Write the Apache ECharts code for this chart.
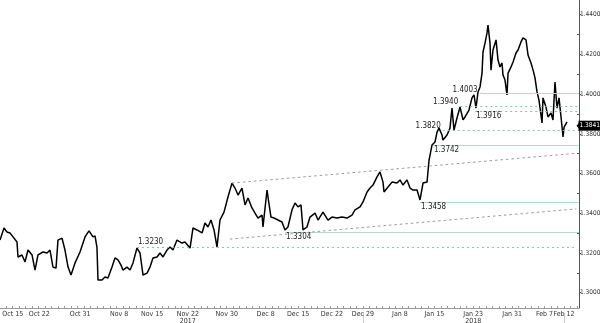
<!DOCTYPE html>
<html>
<head>
<meta charset="utf-8">
<script src="https://cdn.jsdelivr.net/npm/echarts@6/dist/echarts.min.js"></script>
<style>html,body{margin:0;padding:0;background:#fff}#c{width:600px;height:323px}</style>
</head>
<body>
<div id="c"></div>
<script>
// x = trading-day index (0 = Mon Oct 16 2017), y = GBP/USD
var tradeDay = [-1.96,-1.34,-0.88,-0.42,0.05,0.66,0.82,1.43,1.90,2.36,2.98,3.44,3.90,4.67,5.29,5.75,6.21,6.68,6.98,7.60,8.06,8.53,8.99,9.61,10.38,11.15,11.76,12.38,12.69,12.99,13.15,13.77,14.23,14.69,15.31,15.77,16.23,16.70,17.00,17.62,18.09,18.55,19.16,19.63,20.09,20.71,21.17,21.63,22.25,22.71,23.17,23.79,24.25,24.71,25.33,26.10,26.56,27.34,27.80,28.41,29.19,29.65,30.11,30.57,31.04,31.50,31.96,32.58,33.19,33.81,34.27,34.74,35.35,35.82,36.28,36.89,37.36,37.82,38.44,38.59,39.21,39.36,39.82,40.29,40.90,41.52,41.98,42.44,43.06,43.53,43.99,44.45,44.76,45.37,45.84,46.61,47.07,47.84,48.61,49.23,50.00,50.77,51.54,52.31,52.78,53.55,54.01,54.63,55.09,55.55,56.17,56.63,57.09,57.25,57.86,58.48,59.25,59.72,60.18,60.79,61.26,61.72,62.34,62.80,63.26,63.88,64.19,64.65,65.11,65.42,65.73,66.19,66.34,66.96,67.42,67.73,68.04,68.50,68.97,69.43,69.74,70.04,70.35,70.81,71.12,71.43,71.74,72.05,72.36,72.51,72.82,73.13,73.28,73.59,73.74,74.05,74.52,74.82,75.13,75.44,75.59,75.90,76.21,76.37,76.83,77.14,77.60,77.91,78.37,78.68,79.14,79.45,79.91,80.22,80.53,80.84,81.14,81.61,81.76,82.22,82.53,82.99,83.30,83.61,83.92,84.23,84.54,84.85,85.01,85.47];
var price = [1.3265,1.3326,1.3306,1.3301,1.3281,1.3255,1.3180,1.3190,1.3155,1.3215,1.3190,1.3114,1.3190,1.3205,1.3200,1.3215,1.3129,1.3124,1.3265,1.3275,1.3215,1.3129,1.3089,1.3150,1.3205,1.3281,1.3311,1.3281,1.3286,1.3230,1.3064,1.3064,1.3079,1.3074,1.3129,1.3175,1.3165,1.3139,1.3114,1.3129,1.3114,1.3150,1.3225,1.3200,1.3089,1.3099,1.3129,1.3175,1.3180,1.3200,1.3180,1.3215,1.3230,1.3215,1.3265,1.3250,1.3255,1.3225,1.3326,1.3316,1.3301,1.3351,1.3331,1.3366,1.3316,1.3230,1.3366,1.3406,1.3482,1.3552,1.3527,1.3492,1.3527,1.3442,1.3477,1.3427,1.3401,1.3376,1.3391,1.3331,1.3517,1.3482,1.3381,1.3376,1.3366,1.3356,1.3316,1.3331,1.3417,1.3452,1.3432,1.3442,1.3316,1.3331,1.3381,1.3401,1.3366,1.3406,1.3366,1.3381,1.3376,1.3381,1.3376,1.3391,1.3417,1.3432,1.3457,1.3507,1.3527,1.3542,1.3583,1.3608,1.3557,1.3507,1.3532,1.3557,1.3552,1.3568,1.3542,1.3568,1.3527,1.3517,1.3517,1.3467,1.3552,1.3557,1.3668,1.3744,1.3759,1.3809,1.3829,1.3794,1.3769,1.3794,1.3829,1.3930,1.3819,1.3880,1.3935,1.3870,1.3885,1.3880,1.3920,1.3981,1.3996,1.3930,1.4011,1.4036,1.4106,1.4212,1.4257,1.4308,1.4348,1.4257,1.4121,1.4222,1.4273,1.4172,1.4137,1.4157,1.4097,1.4071,1.3996,1.4106,1.4137,1.4162,1.4207,1.4222,1.4263,1.4283,1.4273,1.4197,1.4157,1.4122,1.4081,1.4011,1.3970,1.3855,1.3981,1.3935,1.3885,1.3905,1.3870,1.4061,1.3930,1.3981,1.3885,1.3784,1.3834,1.3860];
var lastPrice = 1.3841;

var tickNames = ['Oct 15','Oct 22','Oct 31','Nov 8','Nov 15','Nov 22\n2017','Nov 30','Dec 8','Dec 15','Dec 22','Dec 29','Jan 8','Jan 15','Jan 23\n2018','Jan 31','Feb 7','Feb 12'];
var tickDays  = [0,4.1,10.4,16.4,21.5,27,33,39,44,49.2,54,59.7,65,71,77,82,85];
var yTickLabels = [1.30,1.32,1.34,1.36,1.38,1.40,1.42,1.44];
var yMinorTicks = [1.31,1.33,1.35,1.37,1.39,1.41,1.43];
var separatorDays = [54,85];

// horizontal support/resistance levels
var levelValues = [1.3230,1.3304,1.3458,1.3742,1.3820,1.3916,1.3940,1.4003];
var levelStart  = [19.16,42.0,62.8,64.8,66.3,71.3,69.0,72.0];
var levelEnd    = [86.7,87.31,87.31,87.31,87.31,87.31,87.31,87.31];
var levelDashed = [true,false,false,false,true,true,true,false];
var levelLabelPos = ['insideStartTop','insideStartBottom','insideStartBottom','insideStartBottom','start','insideStartBottom','start','start'];

// trend lines [startDay, startValue, endDay, endValue]
var trendUpper = [33.81,1.3552,86.9,1.3702];
var trendLower = [33.50,1.3270,86.9,1.3422];

var X_MIN = -1.958, X_MAX = 87.31, Y_MIN = 1.2923, Y_MAX = 1.4474;
var NARROW = "'Liberation Sans Narrow','DejaVu Sans Condensed','Liberation Sans',sans-serif";

var lineData = tradeDay.map(function(d,i){return [d, price[i]];});
var dayTicks = []; for (var k=-1;k<=87;k++) dayTicks.push(k);

var mlData = levelValues.map(function(v,i){
  var dashed = levelDashed[i];
  var pos = levelLabelPos[i];
  var lbl = {show:true, position:pos, formatter:v.toFixed(4), fontSize:8, color:'#222', fontFamily:NARROW, distance: pos==='start'?2:1};
  if (pos==='start') lbl.offset=[0,-4];
  return [
    {coord:[levelStart[i], v], lineStyle:{color: dashed?'#86c4ae':'#b3dbcd', type: dashed?[2,3]:'solid', width:1}, label:lbl},
    {coord:[levelEnd[i], v]}
  ];
});
[trendUpper, trendLower].forEach(function(t){
  mlData.push([
    {coord:[t[0],t[1]], lineStyle:{color:'#9a9a9a', type:[2.5,3], width:1}, label:{show:false}},
    {coord:[t[2],t[3]]}
  ]);
});

var chart = echarts.init(document.getElementById('c'), null, {renderer:'canvas'});
chart.setOption({
  animation:false,
  backgroundColor:'#fff',
  grid:{left:0, right:21, top:0, bottom:15, containLabel:false, outerBoundsMode:'none'},
  xAxis:[{
    type:'value', min:X_MIN, max:X_MAX,
    splitLine:{show:false},
    axisLine:{show:true, onZero:false, lineStyle:{color:'#9a9a9a', width:1}},
    axisTick:{show:true, inside:true, length:2, customValues:dayTicks, lineStyle:{color:'#9a9a9a'}},
    axisLabel:{show:true, hideOverlap:false, customValues:tickDays, fontSize:7, color:'#333', fontFamily:NARROW, margin:3, lineHeight:7,
      formatter:function(v){var i=tickDays.indexOf(v); return i>=0?tickNames[i]:'';}}
  },{
    type:'value', min:X_MIN, max:X_MAX, position:'bottom', offset:5,
    splitLine:{show:false}, axisLine:{show:false, onZero:false}, axisLabel:{show:false},
    axisTick:{show:true, length:10, customValues:separatorDays, lineStyle:{color:'#cccccc'}}
  }],
  yAxis:[{
    type:'value', position:'right', min:Y_MIN, max:Y_MAX,
    splitLine:{show:false},
    axisLine:{show:true, onZero:false, lineStyle:{color:'#555', width:1}},
    axisTick:{show:true, inside:false, length:2, customValues:yTickLabels, lineStyle:{color:'#555'}},
    axisLabel:{show:true, hideOverlap:false, customValues:yTickLabels, fontSize:6.5, color:'#333', fontFamily:NARROW, margin:1,
      formatter:function(v){return v.toFixed(4);}}
  },{
    type:'value', position:'right', min:Y_MIN, max:Y_MAX,
    splitLine:{show:false}, axisLine:{show:false, onZero:false}, axisLabel:{show:false},
    axisTick:{show:true, inside:true, length:2, customValues:yMinorTicks, lineStyle:{color:'#555'}}
  }],
  series:[{
    type:'line', xAxisIndex:0, yAxisIndex:0,
    data:lineData, symbol:'none', smooth:false,
    lineStyle:{color:'#000', width:1.5},
    markLine:{silent:true, symbol:['none','none'], animation:false, data:mlData},
    markPoint:{silent:true, animation:false, data:[{
      coord:[X_MAX, lastPrice], symbol:'triangle', symbolRotate:90, symbolSize:[7,3], symbolOffset:[-1,0],
      itemStyle:{color:'#000'},
      label:{show:true, position:'right', distance:0, offset:[-1,0], formatter:lastPrice.toFixed(4), color:'#fff', backgroundColor:'#000', padding:[2,1,1,1], fontSize:6.5, fontFamily:NARROW}
    }]}
  }]
});
</script>
</body>
</html>
